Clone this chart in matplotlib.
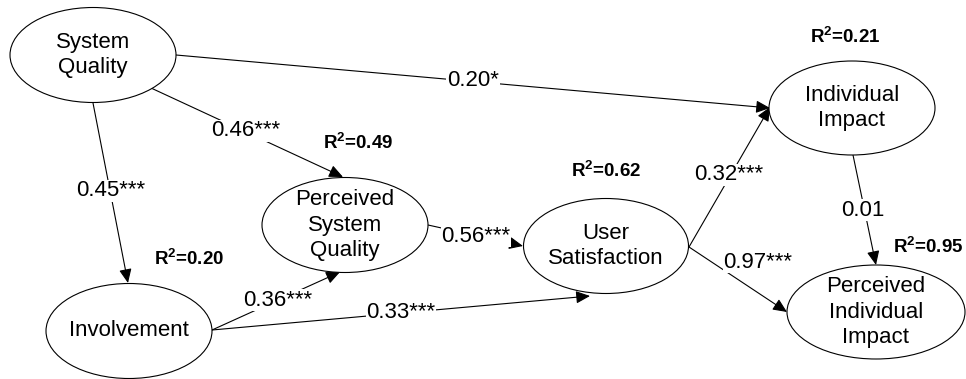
import matplotlib
matplotlib.use("Agg")
import matplotlib.pyplot as plt
from matplotlib.patches import Ellipse

plt.rcParams["mathtext.fontset"] = "custom"
plt.rcParams["mathtext.rm"] = "Liberation Sans"
plt.rcParams["mathtext.bf"] = "Liberation Sans:bold"

# ---------------- data ----------------
node_labels = ["System\nQuality", "Involvement", "Perceived\nSystem\nQuality",
               "User\nSatisfaction", "Individual\nImpact", "Perceived\nIndividual\nImpact"]
r_squared = [None, 0.20, 0.49, 0.62, 0.21, 0.95]

path_source = [0, 0, 0, 1, 1, 2, 3, 3, 4]
path_target = [4, 2, 1, 2, 3, 3, 4, 5, 5]
path_coef = [0.20, 0.46, 0.45, 0.36, 0.33, 0.56, 0.32, 0.97, 0.01]
path_sig = ["*", "***", "***", "***", "***", "***", "***", "***", ""]

# ---------------- layout (pixel space) ----------------
node_center = [(93, 55), (129, 331), (345, 225), (606, 246), (852, 108), (876, 312)]
node_size = [(166, 95), (166, 95), (166, 95), (165, 95), (166, 94), (178, 94)]
r2_pos = [None, (189, 259), (358, 143), (606, 171), (845, 37), (928, 247)]

path_start = [(176, 55), (151, 88), (93, 103), (212, 330), (212, 330),
              (428, 225), (689, 247), (689, 247), (853, 155)]
path_end = [(770, 108), (343, 177), (128, 283), (340, 272), (590, 296),
            (523, 246), (770, 107), (787, 312), (876, 265)]
label_pos = [(473, 81), (246, 131), (111, 191), (278, 300), (401, 313),
             (476, 236), (729, 175), (758, 262), (863, 210)]

W, H = 966, 379
fig = plt.figure(figsize=(W / 100, H / 100), dpi=100)
ax = fig.add_axes([0, 0, 1, 1])
ax.set_xlim(0, W)
ax.set_ylim(H, 0)
ax.axis("off")

FONT = "Liberation Sans"

# paths
for s, e in zip(path_start, path_end):
    ax.annotate("", xy=e, xytext=s, xycoords="data", textcoords="data",
                arrowprops=dict(arrowstyle="-|>,head_length=0.85,head_width=0.38",
                                mutation_scale=10, color="black", lw=0.8,
                                shrinkA=0, shrinkB=0), zorder=2)

# nodes
for (cx, cy), (w, h), lab in zip(node_center, node_size, node_labels):
    ax.add_patch(Ellipse((cx, cy), w, h, facecolor="white", edgecolor="black",
                         lw=0.8, zorder=3))
    ax.text(cx, cy, lab, ha="center", va="center", fontsize=16, family=FONT,
            linespacing=1.3, zorder=4)

# path coefficient labels
for (lx, ly), c, sg in zip(label_pos, path_coef, path_sig):
    ax.text(lx, ly, f"{c:.2f}{sg}", ha="center", va="center", fontsize=16,
            family=FONT, zorder=5,
            bbox=dict(facecolor="white", edgecolor="none", pad=0.5))

# R-squared labels
for pos, r2 in zip(r2_pos, r_squared):
    if r2 is None:
        continue
    ax.text(pos[0], pos[1], "R$^{\\mathbf{2}}$" + f"={r2:.2f}", ha="center",
            va="center", fontsize=13.5, fontweight="bold", family=FONT, zorder=5)

fig.savefig("out.png", dpi=100)
